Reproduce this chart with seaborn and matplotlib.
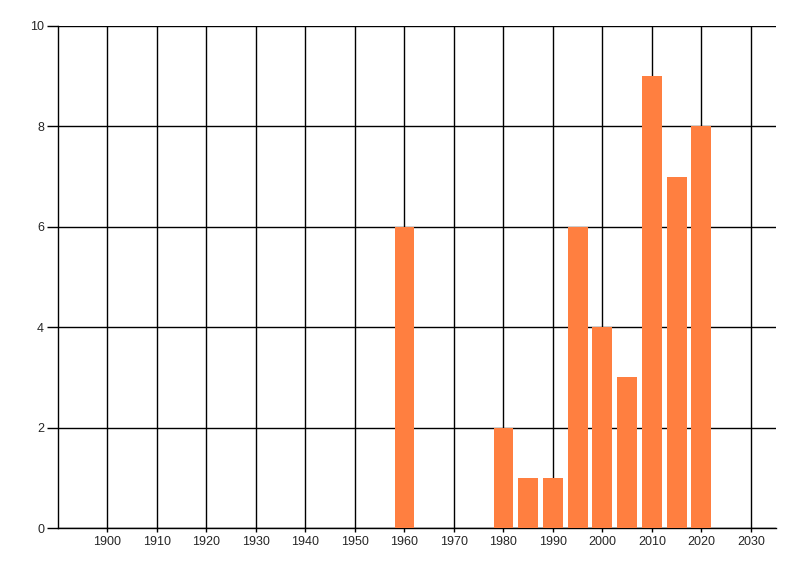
import matplotlib
matplotlib.use("Agg")
import matplotlib.pyplot as plt
import seaborn as sns
import pandas as pd

# --- Data ---
years = [1960, 1980, 1985, 1990, 1995, 2000, 2005, 2010, 2015, 2020]
counts = [6, 2, 1, 1, 6, 4, 3, 9, 7, 8]
x_ticks = list(range(1900, 2031, 10))
y_ticks = [0, 2, 4, 6, 8, 10]

df = pd.DataFrame({"Year": years, "Count": counts})

sns.set_style("white")
plt.rcParams['font.family'] = ['Liberation Sans', 'DejaVu Sans']

fig = plt.figure(figsize=(8, 5.76), dpi=100)
ax = fig.add_axes([0.0725, 0.0833, 0.897, 0.8716])

sns.barplot(data=df, x="Year", y="Count", native_scale=True, color="#FF7F40",
            saturation=1, linewidth=0, edgecolor="none", ax=ax, zorder=3)

ax.set_xlim(1890, 2035)
ax.set_ylim(0, 10)
ax.set_xticks(x_ticks)
ax.set_xticklabels([str(t) for t in x_ticks], fontsize=9)
ax.set_yticks(y_ticks)
ax.set_yticklabels([str(t) for t in y_ticks], fontsize=9)

ax.grid(True, color="black", linewidth=1)
ax.set_axisbelow(True)
for s in ["top", "right"]:
    ax.spines[s].set_visible(False)
for s in ["left", "bottom"]:
    ax.spines[s].set_color("black")
    ax.spines[s].set_linewidth(1)
ax.tick_params(axis="y", length=8, width=1, color="black", pad=2, left=True)
ax.tick_params(axis="x", length=3, width=1, color="black", pad=3, bottom=True)
ax.set_xlabel("")
ax.set_ylabel("")

plt.savefig("out.png", dpi=100)
